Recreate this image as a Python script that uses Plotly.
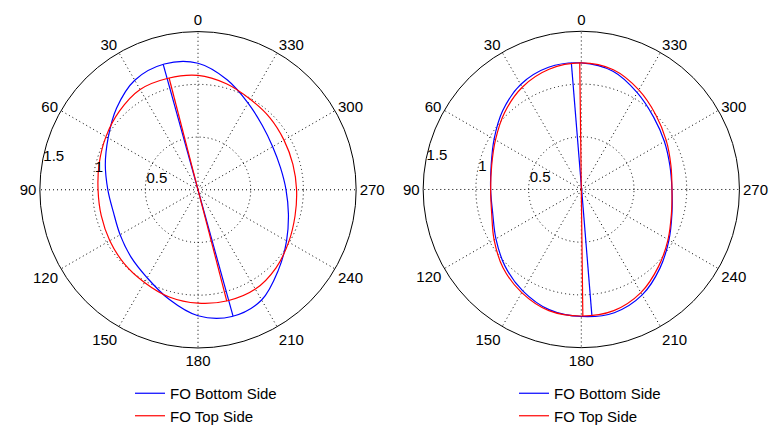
import plotly.graph_objects as go

# ---------------- data ----------------
angle_ticks = [0, 30, 60, 90, 120, 150, 180, 210, 240, 270, 300, 330]
radial_ticks = [0.5, 1, 1.5]
radial_tick_labels = ["0.5", "1", "1.5"]

theta_deg = [0, 15, 30, 45, 60, 75, 90, 105, 120, 135, 150, 165,
             180, 195, 210, 225, 240, 255, 270, 285, 300, 315, 330, 345]

# left chart
left_bottom_r = [1.20, 1.235, 1.20, 1.093, 0.984, 0.91, 0.855, 0.83, 0.853, 0.90, 0.964, 1.073,
                 1.195, 1.244, 1.207, 1.078, 0.97, 0.888, 0.835, 0.81, 0.818, 0.863, 0.95, 1.078]
left_top_r = [1.085, 1.095, 1.098, 1.054, 1.008, 0.97, 0.948, 0.95, 0.966, 0.99, 1.015, 1.053,
              1.076, 1.09, 1.088, 1.047, 0.993, 0.953, 0.935, 0.932, 0.942, 0.965, 0.991, 1.041]
left_bottom_axis_theta = [15.5, 195.5]
left_bottom_axis_r = [1.235, 1.244]
left_top_axis_theta = [14.5, 194.5]
left_top_axis_r = [1.095, 1.09]

# right chart
right_bottom_r = [1.20, 1.20, 1.15, 1.055, 0.955, 0.885, 0.86, 0.87, 0.935, 1.025, 1.11, 1.18,
                  1.205, 1.21, 1.155, 1.055, 0.96, 0.89, 0.86, 0.87, 0.91, 0.97, 1.06, 1.16]
right_top_r = [1.20, 1.18, 1.12, 1.03, 0.94, 0.88, 0.86, 0.88, 0.955, 1.05, 1.13, 1.19,
               1.20, 1.19, 1.13, 1.035, 0.95, 0.885, 0.86, 0.88, 0.93, 1.0, 1.09, 1.175]
right_bottom_axis_theta = [4.5, 184.8]
right_bottom_axis_r = [1.205, 1.205]
right_top_axis_theta = [0.7, 180.7]
right_top_axis_r = [1.2, 1.2]

series_names = ["FO Bottom Side", "FO Top Side"]
series_colors = ["#0000FF", "#FF0000"]

R_MAX = 1.5
RADIAL_LABEL_ANGLE = 78       # radial labels placed along this direction

FONT = "Liberation Sans, Arial, sans-serif"


def closed(th, r, start):
    # start the closed loop at index `start` so the spline join sits on the axis line
    th2 = th[start:] + [t + 360 for t in th[:start + 1]]
    r2 = r[start:] + r[:start + 1]
    return th2, r2


fig = go.Figure()

panels = [
    ("polar", "legend", [(left_bottom_r, left_bottom_axis_theta, left_bottom_axis_r, 1),
                         (left_top_r, left_top_axis_theta, left_top_axis_r, 1)]),
    ("polar2", "legend2", [(right_bottom_r, right_bottom_axis_theta, right_bottom_axis_r, 0),
                           (right_top_r, right_top_axis_theta, right_top_axis_r, 0)]),
]

for subplot, legend, series in panels:
    for i, (rvals, ath, ar, start) in enumerate(series):
        th, rr = closed(theta_deg, rvals, start)
        fig.add_trace(go.Scatterpolar(
            theta=th, r=rr, mode="lines", subplot=subplot,
            line=dict(color=series_colors[i], width=1.2, shape="spline", smoothing=1),
            name=series_names[i], legend=legend, legendgroup=f"{subplot}{i}",
            hoverinfo="skip"))
        fig.add_trace(go.Scatterpolar(
            theta=ath, r=ar, mode="lines", subplot=subplot,
            line=dict(color=series_colors[i], width=1.2),
            showlegend=False, legend=legend, legendgroup=f"{subplot}{i}",
            hoverinfo="skip"))
    # radial tick labels (MATLAB style, along one direction)
    fig.add_trace(go.Scatterpolar(
        theta=[RADIAL_LABEL_ANGLE] * len(radial_ticks), r=radial_ticks, mode="text",
        text=radial_tick_labels, textposition="middle right",
        textfont=dict(family=FONT, size=15, color="#000000"),
        cliponaxis=False, showlegend=False, hoverinfo="skip", subplot=subplot))

W, H = 774, 432
R = 160


def polar_layout(cx, cy):
    return dict(
        domain=dict(x=[(cx - R) / W, (cx + R) / W], y=[(H - cy - R) / H, (H - cy + R) / H]),
        bgcolor="white",
        angularaxis=dict(
            rotation=90, direction="counterclockwise",
            tickmode="array", tickvals=angle_ticks, ticktext=[str(a) for a in angle_ticks],
            showline=True, linecolor="#000000", linewidth=1,
            showgrid=True, gridcolor="#000000", gridwidth=1, griddash="1px,3px",
            ticks="", tickfont=dict(family=FONT, size=15, color="#000000"),
        ),
        radialaxis=dict(
            range=[0, R_MAX], tickmode="array", tickvals=radial_ticks,
            showticklabels=False,
            showline=False, ticks="",
            showgrid=True, gridcolor="#000000", gridwidth=1, griddash="1px,3px",
        ),
    )


legend_common = dict(
    orientation="v", xanchor="left", yanchor="bottom", y=-0.012, traceorder="grouped",
    tracegroupgap=0, bgcolor="rgba(0,0,0,0)",
    font=dict(family=FONT, size=15, color="#000000"),
)

fig.update_layout(
    width=W, height=H, autosize=False,
    margin=dict(l=0, r=0, t=0, b=0),
    paper_bgcolor="white", plot_bgcolor="white",
    font=dict(family=FONT, size=15, color="#000000"),
    polar=polar_layout(198, 192),
    polar2=polar_layout(581.3, 191.7),
    legend=dict(x=130 / W, **legend_common),
    legend2=dict(x=514 / W, **legend_common),
)

fig.write_html(
    "out.html",
    config={"displayModeBar": False},
    post_script="document.body.style.margin='0px';document.body.style.overflow='hidden';",
)
